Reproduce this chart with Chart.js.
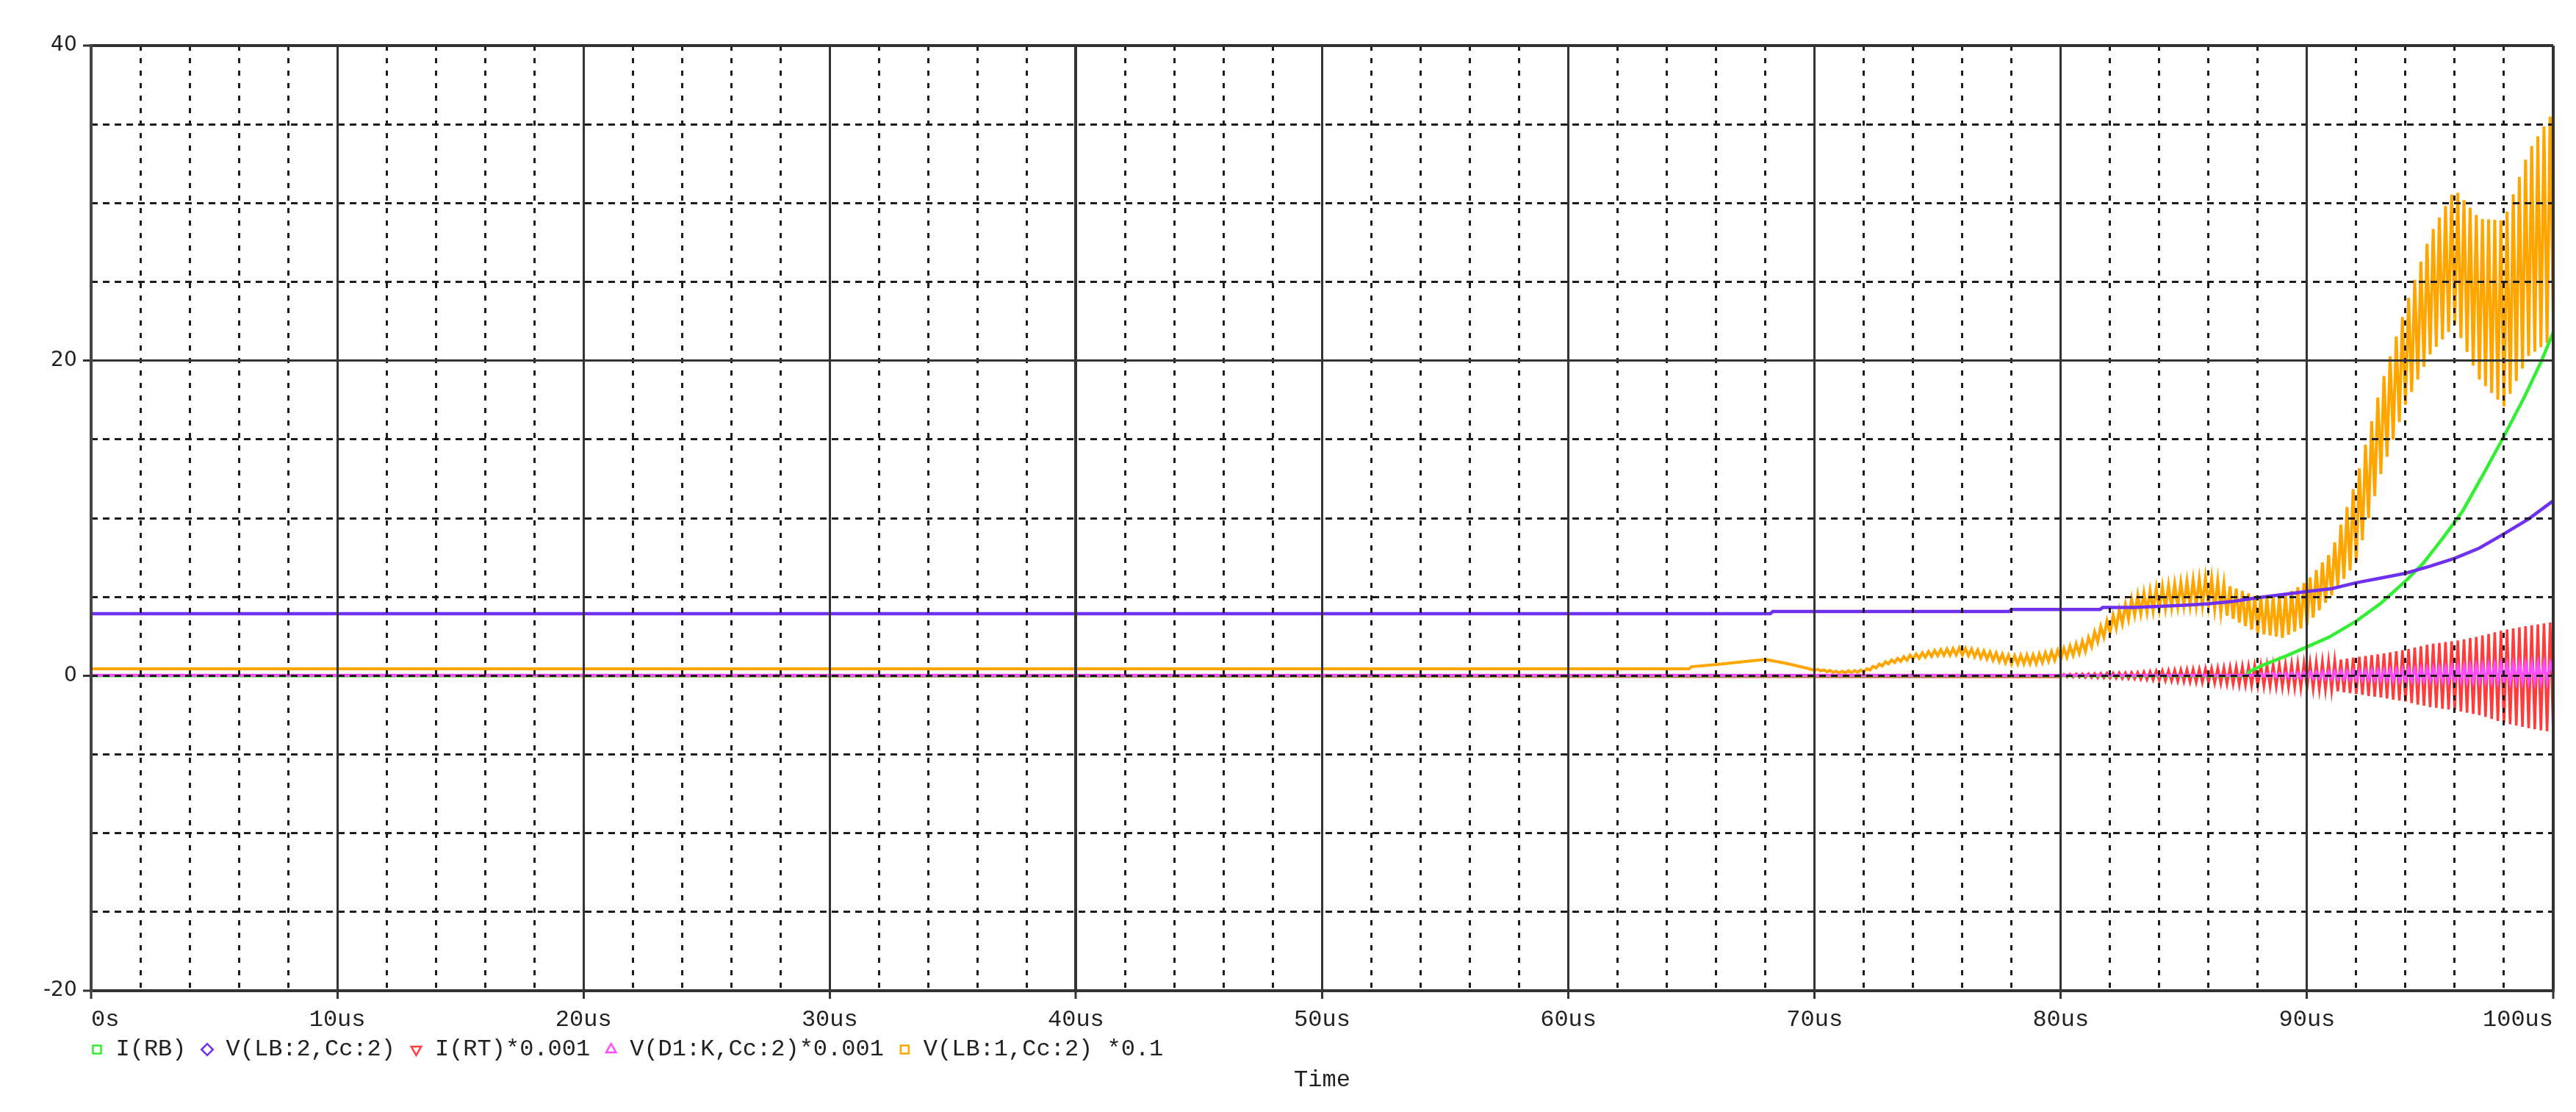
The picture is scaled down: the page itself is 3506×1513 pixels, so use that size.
<!DOCTYPE html>
<html lang="en">
<head>
<meta charset="UTF-8">
<title>Transient simulation</title>
<script src="https://cdn.jsdelivr.net/npm/chart.js"></script>
<style>
  html, body { margin: 0; padding: 0; background: #fff; }
  #chart-container { width: 3506px; height: 1513px; position: relative; }
</style>
</head>
<body>
<div id="chart-container"><canvas id="simChart"></canvas></div>
<script>
// axis ticks (time in us)
const xTickValues = [0, 10, 20, 30, 40, 50, 60, 70, 80, 90, 100];
const xTickLabels = ['0s', '10us', '20us', '30us', '40us', '50us', '60us', '70us', '80us', '90us', '100us'];
const yTickValues = [-20, 0, 20, 40];
const yTickLabels = ['-20', '0', '20', '40'];
const xTitle = 'Time';

const seriesNames = ['I(RB)', 'V(LB:2,Cc:2)', 'I(RT)*0.001', 'V(D1:K,Cc:2)*0.001', 'V(LB:1,Cc:2) *0.1'];

// smooth traces: time / value
const greenT = [0, 87.5, 87.7, 88.2, 89.2, 90, 90.9, 92, 93, 94, 94.7, 95.5, 96.3, 97.2, 98, 98.8, 99.5, 100];
const greenV = [0, 0, 0.3, 0.66, 1.28, 1.83, 2.45, 3.46, 4.6, 6.0, 7.1, 8.7, 10.4, 12.9, 15.2, 17.6, 19.9, 21.8];

const purpleT = [0, 68.2, 68.3, 77.9, 78.0, 81.6, 81.7, 83, 84, 85, 86, 87, 88, 89, 90, 91, 92, 93, 94, 95, 96, 97, 98, 99, 100];
const purpleV = [3.93, 3.93, 4.07, 4.07, 4.2, 4.2, 4.33, 4.33, 4.4, 4.47, 4.57, 4.72, 4.95, 5.15, 5.35, 5.52, 5.9, 6.2, 6.5, 6.95, 7.45, 8.1, 9.0, 9.95, 11.1];

// ringing traces: flat start, then samples every oscStep us
const oscStep = 0.125;

const orangeT = [0, 64.9, 65.0, 66.0, 67.2, 68.0, 68.8, 69.7];
const orangeV = [0.43, 0.43, 0.57, 0.7, 0.9, 1.03, 0.8, 0.47];
const orangeOscStart = 70;
const orangeOsc = [
  0.34, 0.40, 0.30, 0.37, 0.25, 0.33, 0.21, 0.29,
  0.17, 0.28, 0.18, 0.31, 0.20, 0.33, 0.21, 0.36,
  0.23, 0.44, 0.36, 0.59, 0.49, 0.73, 0.62, 0.88,
  0.75, 1.00, 0.83, 1.10, 0.91, 1.20, 0.98, 1.30,
  1.06, 1.38, 1.11, 1.45, 1.17, 1.53, 1.22, 1.60,
  1.27, 1.65, 1.29, 1.69, 1.30, 1.72, 1.32, 1.76,
  1.33, 1.74, 1.27, 1.69, 1.20, 1.63, 1.13, 1.57,
  1.06, 1.50, 0.98, 1.44, 0.90, 1.37, 0.82, 1.30,
  0.74, 1.27, 0.75, 1.29, 0.76, 1.31, 0.76, 1.32,
  0.77, 1.37, 0.84, 1.45, 0.91, 1.54, 0.99, 1.61,
  1.05, 1.73, 1.18, 1.88, 1.30, 2.02, 1.42, 2.18,
  1.55, 2.42, 1.85, 2.78, 2.15, 3.12, 2.45, 3.48,
  2.75, 3.83, 3.02, 4.18, 3.30, 4.52, 3.58, 4.87,
  3.85, 5.12, 3.94, 5.26, 4.03, 5.39, 4.11, 5.53,
  4.20, 5.65, 4.27, 5.73, 4.33, 5.82, 4.39, 5.91,
  4.45, 5.99, 4.45, 6.07, 4.45, 6.13, 4.45, 6.21,
  4.45, 6.17, 4.24, 6.01, 4.03, 5.84, 3.81, 5.68,
  3.60, 5.53, 3.37, 5.38, 3.15, 5.22, 2.93, 5.07,
  2.70, 5.00, 2.62, 5.00, 2.55, 5.00, 2.48, 5.00,
  2.40, 5.12, 2.60, 5.38, 2.80, 5.62, 3.00, 5.88,
  3.20, 6.24, 3.68, 6.71, 4.15, 7.19, 4.63, 7.66,
  5.10, 8.46, 5.63, 9.59, 6.15, 10.71, 6.68, 11.84,
  7.20, 13.16, 8.60, 14.66, 10.00, 16.16, 11.40, 17.66,
  12.80, 19.03, 13.90, 20.27, 15.00, 21.53, 16.10, 22.77,
  17.20, 23.98, 18.00, 25.12, 18.80, 26.28, 19.60, 27.42,
  20.40, 28.36, 20.87, 29.09, 21.35, 29.81, 21.82, 30.54,
  22.30, 30.66, 21.43, 30.19, 20.55, 29.71, 19.68, 29.24,
  18.80, 28.99, 18.38, 28.96, 17.95, 28.94, 17.53, 28.91,
  17.10, 29.46, 17.90, 30.56, 18.70, 31.66, 19.50, 32.76,
  20.30, 33.62, 20.57, 34.24, 20.85, 34.87, 21.12, 35.49,
  22.5
];

const redT = [0];
const redV = [0];
const redOscStart = 80;
const redOsc = [
  -0.08, 0.09, -0.09, 0.10, -0.10, 0.11, -0.11, 0.12,
  -0.12, 0.13, -0.13, 0.14, -0.14, 0.15, -0.15, 0.16,
  -0.16, 0.17, -0.17, 0.18, -0.18, 0.19, -0.19, 0.20,
  -0.20, 0.21, -0.23, 0.24, -0.25, 0.26, -0.28, 0.29,
  -0.30, 0.31, -0.32, 0.33, -0.34, 0.35, -0.36, 0.37,
  -0.38, 0.39, -0.40, 0.41, -0.42, 0.42, -0.43, 0.44,
  -0.45, 0.46, -0.48, 0.49, -0.50, 0.51, -0.53, 0.54,
  -0.55, 0.56, -0.58, 0.59, -0.60, 0.61, -0.63, 0.64,
  -0.65, 0.66, -0.67, 0.68, -0.69, 0.69, -0.70, 0.71,
  -0.72, 0.73, -0.74, 0.75, -0.76, 0.77, -0.78, 0.79,
  -0.80, 0.82, -0.83, 0.85, -0.87, 0.88, -0.90, 0.91,
  -0.93, 0.96, -0.99, 1.02, -1.05, 1.08, -1.11, 1.14,
  -1.17, 1.20, -1.22, 1.25, -1.28, 1.30, -1.33, 1.35,
  -1.38, 1.41, -1.45, 1.48, -1.52, 1.55, -1.58, 1.62,
  -1.65, 1.69, -1.74, 1.78, -1.83, 1.87, -1.91, 1.96,
  -2.00, 2.03, -2.05, 2.08, -2.10, 2.13, -2.15, 2.18,
  -2.20, 2.24, -2.28, 2.31, -2.35, 2.39, -2.43, 2.46,
  -2.50, 2.55, -2.62, 2.65, -2.75, 2.75, -2.88, 2.85,
  -3.00, 2.93, -3.08, 3.00, -3.17, 3.07, -3.25, 3.14,
  -3.33, 3.20, -3.40, 3.26, -3.47, 3.31, -3.53, 3.37,
  -3.6
];

const pinkT = [0, 87.875];
const pinkV = [0.03, 0.03];
const pinkOscStart = 88;
const pinkOsc = [
  -0.05, 0.12, -0.06, 0.13, -0.07, 0.14, -0.08, 0.15,
  -0.09, 0.16, -0.11, 0.17, -0.12, 0.19, -0.14, 0.20,
  -0.15, 0.22, -0.16, 0.23, -0.17, 0.24, -0.18, 0.25,
  -0.19, 0.26, -0.20, 0.27, -0.21, 0.28, -0.22, 0.29,
  -0.23, 0.30, -0.24, 0.31, -0.25, 0.32, -0.26, 0.33,
  -0.27, 0.34, -0.28, 0.35, -0.29, 0.36, -0.30, 0.38,
  -0.29, 0.40, -0.30, 0.41, -0.30, 0.43, -0.31, 0.45,
  -0.30, 0.47, -0.30, 0.49, -0.30, 0.51, -0.30, 0.53,
  -0.30, 0.55, -0.31, 0.57, -0.32, 0.59, -0.33, 0.61,
  -0.32, 0.63, -0.33, 0.65, -0.34, 0.67, -0.35, 0.69,
  -0.34, 0.71, -0.35, 0.72, -0.35, 0.73, -0.35, 0.74,
  -0.35, 0.75, -0.36, 0.76, -0.36, 0.76, -0.37, 0.77,
  0.2
];

// styles
const colors = ['#33ee33', '#7030f0', '#ff3c3c', '#ff4dff', '#ffa500'];
const markerStyles = ['rect', 'rectRot', 'triangle', 'triangle', 'rect'];
const markerRotations = [0, 0, 180, 0, 0];
const gridDash = '#1c1c1c';
const gridSolid = '#333333';

function toPoints(t, v) {
    return t.map((x, i) => ({ x: x, y: v[i] }));
}
function oscPoints(start, values) {
    return values.map((y, i) => ({ x: start + i * oscStep, y: y }));
}

const datasets = [
    { label: seriesNames[0], data: toPoints(greenT, greenV), borderColor: colors[0], borderWidth: 4.5, order: 3 },
    { label: seriesNames[1], data: toPoints(purpleT, purpleV), borderColor: colors[1], borderWidth: 4.5, order: 1 },
    { label: seriesNames[2], data: toPoints(redT, redV).concat(oscPoints(redOscStart, redOsc)), borderColor: colors[2], borderWidth: 3.5, order: 5 },
    { label: seriesNames[3], data: toPoints(pinkT, pinkV).concat(oscPoints(pinkOscStart, pinkOsc)), borderColor: colors[3], borderWidth: 4, order: 2 },
    { label: seriesNames[4], data: toPoints(orangeT, orangeV).concat(oscPoints(orangeOscStart, orangeOsc)), borderColor: colors[4], borderWidth: 4, order: 4 }
];

// "Time" under the legend, centred on the plot
const axisTitlePlugin = {
    id: 'axisTitle',
    afterDraw(chart) {
        const { ctx, chartArea } = chart;
        ctx.save();
        ctx.font = '32px "Liberation Mono"';
        ctx.fillStyle = '#222';
        ctx.textAlign = 'center';
        ctx.textBaseline = 'middle';
        ctx.fillText(xTitle, (chartArea.left + chartArea.right) / 2, chart.height - 43);
        ctx.restore();
    }
};

const edgeWidth = c => (c.tick && (c.tick.value === 40 || c.tick.value === -20 || c.tick.value === 100 || (c.tick.value === 0 && c.scale.axis === 'x'))) ? 4 : 3;

new Chart(document.getElementById('simChart').getContext('2d'), {
    type: 'line',
    data: { datasets: datasets },
    plugins: [axisTitlePlugin],
    options: {
        responsive: true,
        maintainAspectRatio: false,
        animation: false,
        layout: { padding: { top: 62, right: 31, bottom: 59, left: 103.5 } },
        elements: {
            point: { radius: 0 },
            line: { tension: 0, borderWidth: 3, fill: false }
        },
        plugins: {
            tooltip: { enabled: false },
            legend: {
                position: 'bottom',
                align: 'start',
                labels: {
                    usePointStyle: true,
                    boxWidth: 19,
                    boxHeight: 11,
                    padding: 19,
                    color: '#222',
                    font: { family: 'Liberation Mono', size: 32 },
                    generateLabels: chart => chart.data.datasets.map((ds, i) => ({
                        text: ds.label,
                        fillStyle: '#ffffff',
                        strokeStyle: ds.borderColor,
                        lineWidth: 2.5,
                        pointStyle: markerStyles[i],
                        rotation: markerRotations[i],
                        fontColor: '#222',
                        hidden: false,
                        datasetIndex: i
                    }))
                }
            }
        },
        scales: {
            x: {
                type: 'linear', position: 'bottom', min: 0, max: 100, weight: 0,
                ticks: { display: false, stepSize: 2, maxTicksLimit: 100, autoSkip: false },
                grid: { color: gridDash, lineWidth: 3, drawTicks: false, z: 1 },
                border: { display: false, dash: [7, 10] },
                afterFit: s => { s.height = 0; }
            },
            xMajor: {
                type: 'linear', position: 'bottom', min: 0, max: 100, weight: 1,
                ticks: {
                    stepSize: 10, autoSkip: false, maxRotation: 0, align: 'inner',
                    mirror: true, padding: -52,
                    color: '#222', font: { family: 'Liberation Mono', size: 32, lineHeight: 0.8 },
                    callback: v => { const k = xTickValues.indexOf(v); return k < 0 ? '' : xTickLabels[k]; }
                },
                grid: { color: gridSolid, lineWidth: edgeWidth, tickLength: 11, tickColor: gridSolid, tickWidth: 3, z: 2 },
                border: { display: true, color: '#444', width: 4, z: 2 },
                afterFit: s => { s.height = 45; }
            },
            y: {
                type: 'linear', position: 'left', min: -20, max: 40, weight: 0,
                ticks: { display: false, stepSize: 5, maxTicksLimit: 100 },
                grid: { color: gridDash, lineWidth: 3, drawTicks: false, z: 1 },
                border: { display: false, dash: [9, 7] },
                afterFit: s => { s.width = 0; }
            },
            yMajor: {
                type: 'linear', position: 'left', min: -20, max: 40, weight: 1,
                ticks: {
                    stepSize: 20, autoSkip: false,
                    mirror: true, crossAlign: 'far', padding: -65,
                    color: '#222', font: { family: 'DejaVu Sans', size: 28 },
                    callback: v => { const k = yTickValues.indexOf(v); return k < 0 ? '' : yTickLabels[k]; }
                },
                grid: {
                    color: c => (c.tick && c.tick.value === 0) ? 'rgba(0,0,0,0)' : gridSolid,
                    lineWidth: edgeWidth, tickLength: 11, tickColor: gridSolid, tickWidth: 3, z: 2
                },
                border: { display: true, color: '#444', width: 4, z: 2 },
                afterFit: s => { s.width = 20.5; }
            }
        }
    }
});
</script>
</body>
</html>
